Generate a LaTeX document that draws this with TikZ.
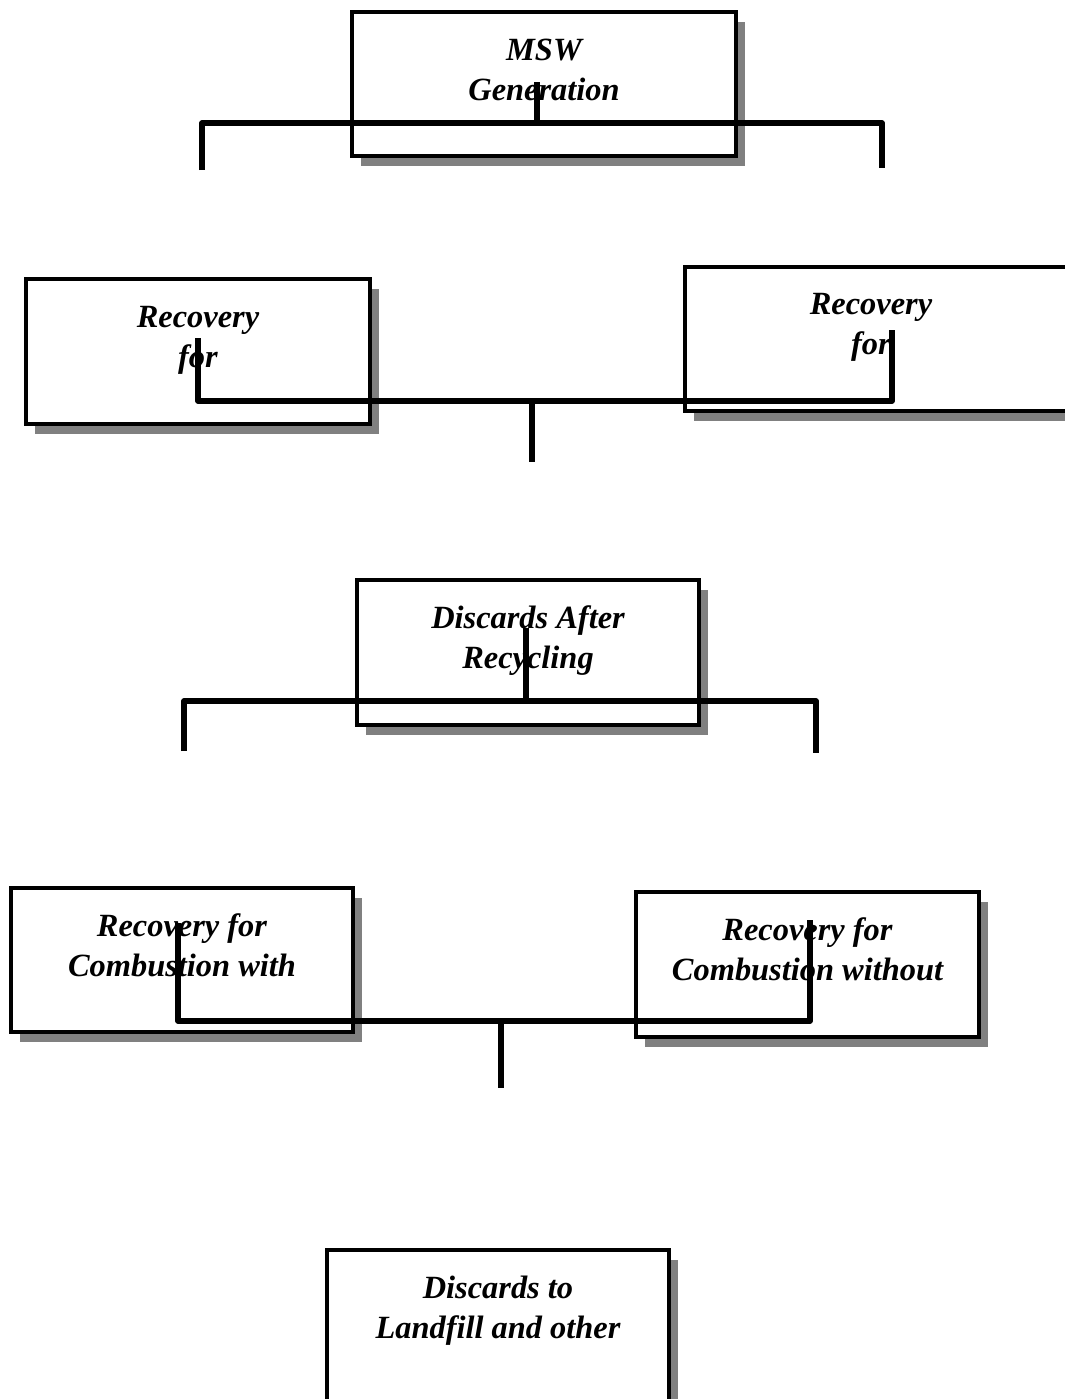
\documentclass[tikz,border=0pt]{standalone}
\usepackage{fontspec}
\setmainfont{Liberation Serif}
\usetikzlibrary{shadows}

\tikzset{
  stage/.style={draw, line width=2pt, fill=white, inner sep=0pt,
    drop shadow={shadow xshift=4.5pt, shadow yshift=-5pt, fill=black!50, opacity=1}},
  caption/.style={font=\fontsize{16.2}{20}\selectfont\bfseries\itshape, align=center},
  link/.style={line width=2.75pt, line join=round}
}

\begin{document}
\begin{tikzpicture}[x=0.5pt,y=-0.5pt]
  \useasboundingbox (0,0) rectangle (1065,1399);
  \clip (0,0) rectangle (1065,1399);

  % --- boxes ---
  \node (gen) [stage, minimum width=192pt, minimum height=72pt,
    label={[caption,yshift=7pt]center:MSW\\Generation}] at (544,84) {};
  \node (recl) [stage, minimum width=172pt, minimum height=72.5pt,
    label={[caption,yshift=5.5pt]center:Recovery\\for}] at (198,351.5) {};
  \node (recr) [stage, minimum width=192pt, minimum height=72pt,
    label={[caption,xshift=-3pt,yshift=6pt]center:Recovery\\for}] at (877,339) {};
  \node (disc) [stage, minimum width=171pt, minimum height=72.5pt,
    label={[caption,yshift=6pt]center:Discards After\\Recycling}] at (528,652.5) {};
  \node (cmbw) [stage, minimum width=171pt, minimum height=72pt,
    label={[caption,yshift=7.5pt]center:Recovery for\\Combustion with}] at (182,960) {};
  \node (cmbn) [stage, minimum width=171.5pt, minimum height=72.5pt,
    label={[caption,yshift=7.5pt]center:Recovery for\\Combustion without}] at (807.5,964.5) {};
  \node (land) [stage, minimum width=171pt, minimum height=76pt,
    label={[caption,yshift=7.5pt]center:Discards to\\Landfill and other}] at (498,1326) {};

  % --- generation split ---
  \coordinate (gen-stem) at (537,82);
  \coordinate (gen-bar) at (537,123);
  \coordinate (gen-l) at (202,170);
  \coordinate (gen-r) at (882,168);
  \draw[link] (gen-stem) -- (gen-bar);
  \draw[link] (gen-l) |- (gen-bar) -| (gen-r);

  % --- recovery merge ---
  \coordinate (rec-l) at (198,338);
  \coordinate (rec-r) at (892,330);
  \coordinate (rec-bar) at (532,401);
  \coordinate (rec-stem) at (532,462);
  \draw[link] (rec-l) |- (rec-bar) -| (rec-r);
  \draw[link] (rec-bar) -- (rec-stem);

  % --- discards split ---
  \coordinate (dis-stem) at (526,628);
  \coordinate (dis-bar) at (526,701);
  \coordinate (dis-l) at (184,751);
  \coordinate (dis-r) at (816,753);
  \draw[link] (dis-stem) -- (dis-bar);
  \draw[link] (dis-l) |- (dis-bar) -| (dis-r);

  % --- combustion merge ---
  \coordinate (cmb-l) at (178,923);
  \coordinate (cmb-r) at (810,920);
  \coordinate (cmb-bar) at (501,1021);
  \coordinate (cmb-stem) at (501,1088);
  \draw[link] (cmb-l) |- (cmb-bar) -| (cmb-r);
  \draw[link] (cmb-bar) -- (cmb-stem);
\end{tikzpicture}
\end{document}
